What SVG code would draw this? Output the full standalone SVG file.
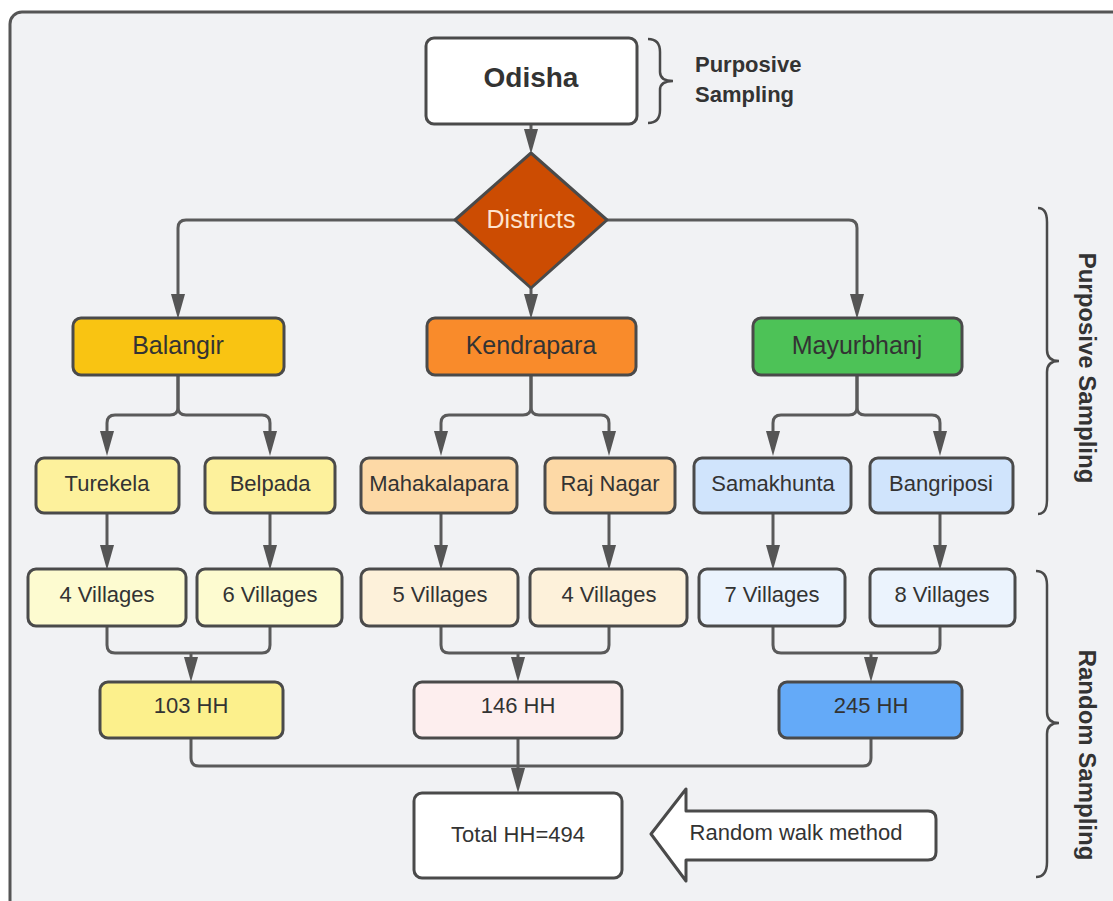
<svg xmlns="http://www.w3.org/2000/svg" width="1113" height="901" viewBox="0 0 1113 901">
<defs>
<marker id="ah" markerUnits="userSpaceOnUse" markerWidth="26" markerHeight="16" refX="0" refY="7" orient="auto">
<path d="M0,0 L25,7 L0,14 z" fill="#555"/>
</marker>
<style>
.box{stroke:#4a4a4a;stroke-width:3}
.t{font-family:"Liberation Sans",Arial,sans-serif;fill:#333;text-anchor:middle}
.tb{font-family:"Liberation Sans",Arial,sans-serif;fill:#333;font-weight:bold}
.c{fill:none;stroke:#5a5a5a;stroke-width:3}
.br{fill:none;stroke:#4a4a4a;stroke-width:2.5}
</style>
</defs>
<rect width="1113" height="901" fill="#ffffff"/>
<rect x="10" y="12" width="1120" height="900" rx="12" fill="#f1f2f4" stroke="#555" stroke-width="3"/>

<g id="connectors">
<path class="c" d="M531,124 V129" marker-end="url(#ah)"/>
<path class="c" d="M455,220 H186 Q178,220 178,228 V294" marker-end="url(#ah)"/>
<path class="c" d="M607,220 H849 Q857,220 857,228 V294" marker-end="url(#ah)"/>
<path class="c" d="M531,288 V294" marker-end="url(#ah)"/>
<path class="c" d="M178,375 V407 Q178,415 170,415 H115 Q107,415 107,423 V431" marker-end="url(#ah)"/>
<path class="c" d="M178,375 V407 Q178,415 186,415 H262 Q270,415 270,423 V431" marker-end="url(#ah)"/>
<path class="c" d="M531,375 V407 Q531,415 523,415 H449 Q441,415 441,423 V431" marker-end="url(#ah)"/>
<path class="c" d="M531,375 V407 Q531,415 539,415 H601 Q609,415 609,423 V431" marker-end="url(#ah)"/>
<path class="c" d="M857,375 V407 Q857,415 849,415 H781 Q773,415 773,423 V431" marker-end="url(#ah)"/>
<path class="c" d="M857,375 V407 Q857,415 865,415 H932 Q940,415 940,423 V431" marker-end="url(#ah)"/>
<path class="c" d="M107,513 V545" marker-end="url(#ah)"/>
<path class="c" d="M270,513 V545" marker-end="url(#ah)"/>
<path class="c" d="M441,513 V545" marker-end="url(#ah)"/>
<path class="c" d="M609,513 V545" marker-end="url(#ah)"/>
<path class="c" d="M773,513 V545" marker-end="url(#ah)"/>
<path class="c" d="M940,513 V545" marker-end="url(#ah)"/>
<path class="c" d="M107,627 V645 Q107,653 115,653 H262 Q270,653 270,645 V627"/>
<path class="c" d="M191,653 V657" marker-end="url(#ah)"/>
<path class="c" d="M441,627 V645 Q441,653 449,653 H601 Q609,653 609,645 V627"/>
<path class="c" d="M518,653 V657" marker-end="url(#ah)"/>
<path class="c" d="M773,627 V645 Q773,653 781,653 H932 Q940,653 940,645 V627"/>
<path class="c" d="M871,653 V657" marker-end="url(#ah)"/>
<path class="c" d="M191,738 V758 Q191,766 199,766 H863 Q871,766 871,758 V738"/>
<path class="c" d="M518,738 V768" marker-end="url(#ah)"/>
</g>

<g id="odisha">
<rect class="box" x="426" y="38" width="211" height="86" rx="8" fill="#ffffff" stroke="#333"/>
<text class="t" x="531" y="87" font-size="28" font-weight="bold">Odisha</text>
</g>
<g id="purposive-top">
<path class="br" d="M648,39 Q660,39 660,52 V72 Q660,81 673,81 Q660,81 660,90 V110 Q660,123 648,123"/>
<text class="tb" x="695" y="72" font-size="22">Purposive</text>
<text class="tb" x="695" y="102" font-size="22">Sampling</text>
</g>
<g id="districts">
<polygon points="531,153 607,220 531,288 455,220" fill="#cc4c02" stroke="#4a4a4a" stroke-width="3" stroke-linejoin="round"/>
<text class="t" x="531" y="228" font-size="25" style="fill:#fde4cf">Districts</text>
</g>

<g id="balangir">
<rect class="box" x="73" y="318" width="211" height="57" rx="8" fill="#f9c412"/>
<text class="t" x="178" y="354" font-size="25">Balangir</text>
</g>
<g id="kendrapara">
<rect class="box" x="427" y="318" width="209" height="57" rx="8" fill="#f98b2b"/>
<text class="t" x="531" y="354" font-size="25">Kendrapara</text>
</g>
<g id="mayurbhanj">
<rect class="box" x="753" y="318" width="209" height="57" rx="8" fill="#4dc257"/>
<text class="t" x="857" y="354" font-size="25">Mayurbhanj</text>
</g>

<g id="turekela">
<rect class="box" x="36" y="458" width="143" height="55" rx="8" fill="#fdf19c"/>
<text class="t" x="107" y="491" font-size="22">Turekela</text>
</g>
<g id="belpada">
<rect class="box" x="205" y="458" width="130" height="55" rx="8" fill="#fdf19c"/>
<text class="t" x="270" y="491" font-size="22">Belpada</text>
</g>
<g id="mahakalapara">
<rect class="box" x="361" y="458" width="156" height="55" rx="8" fill="#fdd9a6"/>
<text class="t" x="439" y="491" font-size="22">Mahakalapara</text>
</g>
<g id="rajnagar">
<rect class="box" x="545" y="458" width="130" height="55" rx="8" fill="#fdd9a6"/>
<text class="t" x="610" y="491" font-size="22">Raj Nagar</text>
</g>
<g id="samakhunta">
<rect class="box" x="694" y="458" width="157" height="55" rx="8" fill="#d0e4fc"/>
<text class="t" x="773" y="491" font-size="22">Samakhunta</text>
</g>
<g id="bangriposi">
<rect class="box" x="870" y="458" width="143" height="55" rx="8" fill="#d0e4fc"/>
<text class="t" x="941" y="491" font-size="22">Bangriposi</text>
</g>

<g id="v4a">
<rect class="box" x="28" y="569" width="158" height="57" rx="8" fill="#fdfbd0"/>
<text class="t" x="107" y="602" font-size="22">4 Villages</text>
</g>
<g id="v6">
<rect class="box" x="197" y="569" width="145" height="57" rx="8" fill="#fdfbd0"/>
<text class="t" x="270" y="602" font-size="22">6 Villages</text>
</g>
<g id="v5">
<rect class="box" x="361" y="569" width="157" height="57" rx="8" fill="#fdf1da"/>
<text class="t" x="440" y="602" font-size="22">5 Villages</text>
</g>
<g id="v4b">
<rect class="box" x="530" y="569" width="157" height="57" rx="8" fill="#fdf1da"/>
<text class="t" x="609" y="602" font-size="22">4 Villages</text>
</g>
<g id="v7">
<rect class="box" x="699" y="569" width="146" height="57" rx="8" fill="#ebf3fd"/>
<text class="t" x="772" y="602" font-size="22">7 Villages</text>
</g>
<g id="v8">
<rect class="box" x="870" y="569" width="145" height="57" rx="8" fill="#ebf3fd"/>
<text class="t" x="942" y="602" font-size="22">8 Villages</text>
</g>

<g id="hh103">
<rect class="box" x="100" y="682" width="183" height="56" rx="8" fill="#fcf08c"/>
<text class="t" x="191" y="713" font-size="22">103 HH</text>
</g>
<g id="hh146">
<rect class="box" x="414" y="682" width="208" height="56" rx="8" fill="#fdeeee"/>
<text class="t" x="518" y="713" font-size="22">146 HH</text>
</g>
<g id="hh245">
<rect class="box" x="779" y="682" width="183" height="56" rx="8" fill="#64aaf8"/>
<text class="t" x="871" y="713" font-size="22">245 HH</text>
</g>

<g id="total">
<rect class="box" x="414" y="793" width="208" height="85" rx="8" fill="#ffffff"/>
<text class="t" x="518" y="842" font-size="22">Total HH=494</text>
</g>
<g id="randomwalk">
<path d="M651,834 L686,789 V811 H928 Q936,811 936,819 V852 Q936,860 928,860 H686 V881 Z" fill="#ffffff" stroke="#4a4a4a" stroke-width="3" stroke-linejoin="round"/>
<text class="t" x="796" y="840" font-size="22">Random walk method</text>
</g>

<g id="purposive-right">
<path class="br" d="M1038,208 Q1047,208 1047,222 V350 Q1047,361 1059,361 Q1047,361 1047,372 V500 Q1047,514 1038,514"/>
<text class="tb" transform="translate(1079,368) rotate(90)" text-anchor="middle" font-size="24">Purposive Sampling</text>
</g>
<g id="random-right">
<path class="br" d="M1036,571 Q1047,571 1047,585 V712 Q1047,723 1059,723 Q1047,723 1047,734 V862 Q1047,877 1036,877"/>
<text class="tb" transform="translate(1079,755) rotate(90)" text-anchor="middle" font-size="24">Random Sampling</text>
</g>
</svg>
